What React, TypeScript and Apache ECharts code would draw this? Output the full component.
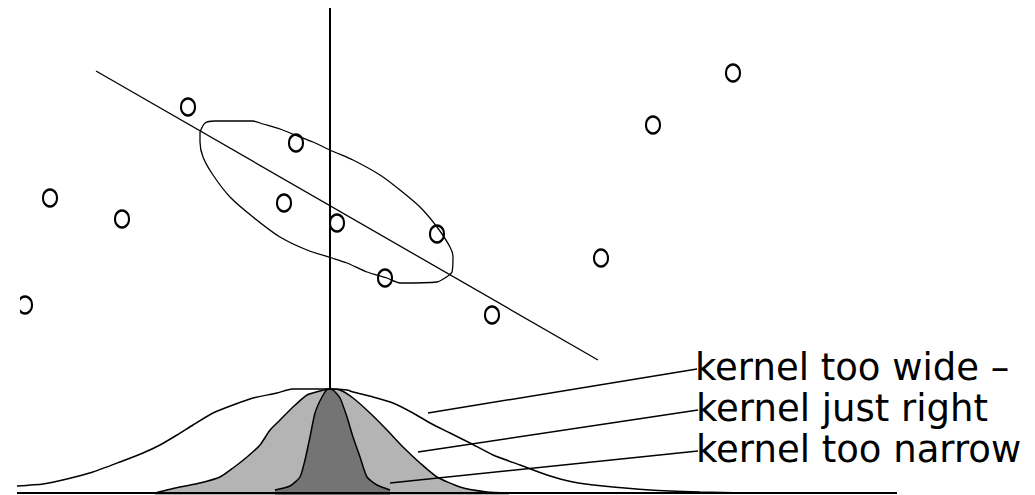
import React, { useEffect, useRef } from "react";
import * as echarts from "echarts";

// Sample points (x, y) in plot units: x across the page, y upward from the bottom
const samplePoints: [number, number][] = [
  [25, 190],
  [50, 297],
  [122, 276],
  [188, 388],
  [296, 352],
  [284, 292],
  [337, 272],
  [437, 261],
  [385, 217],
  [492, 180],
  [601, 237],
  [653, 370],
  [733, 422],
];

// Principal direction through the cloud
const fitLine: [number, number][] = [
  [96, 424],
  [598, 135],
];

// Vertical line marking where the kernels are centred
const modeLine: [number, number][] = [
  [330, 487],
  [330, 106],
];

// Hand-drawn covariance outline around the central points
const ellipseOutline: [number, number][] = [
  [200, 363], [205, 372], [215, 374], [253, 374], [263, 371], [280, 366],
  [295, 360], [313, 353], [332, 344], [353, 335], [380, 320], [400, 305],
  [420, 288], [437, 268], [450, 248], [453, 238], [452, 223], [448, 219],
  [437, 213], [400, 212], [387, 217], [367, 223], [347, 232], [332, 237],
  [307, 245], [280, 258], [253, 278], [230, 298], [213, 320], [203, 338],
  [200, 353], [200, 363],
];

// Kernel profiles along the x axis
const baseline: [number, number][] = [
  [17, 2],
  [897, 2],
];

const wideKernel: [number, number][] = [
  [17, 9], [43, 11], [67, 16], [93, 23], [120, 33], [143, 42], [160, 50],
  [177, 60], [193, 70], [213, 82], [233, 90], [253, 97], [277, 102],
  [292, 106], [330, 106], [347, 105], [353, 103], [373, 98], [393, 92],
  [413, 82], [430, 72], [450, 62], [470, 52], [493, 40], [520, 30],
  [547, 20], [573, 13], [603, 9], [650, 5], [700, 3], [747, 2],
];

const justRightKernel: [number, number][] = [
  [155, 2], [180, 8], [200, 12], [220, 18], [233, 27], [247, 38], [260, 50],
  [270, 65], [280, 75], [293, 88], [307, 100], [320, 104], [330, 106],
  [340, 105], [353, 97], [370, 82], [387, 65], [403, 48], [420, 32],
  [437, 18], [460, 8], [487, 3], [509, 2],
];

const narrowKernel: [number, number][] = [
  [275, 5], [290, 9], [300, 18], [305, 35], [310, 58], [315, 82], [322, 98],
  [328, 106], [333, 105], [340, 97], [347, 78], [353, 58], [360, 38],
  [367, 18], [377, 10], [390, 5],
];

// Leader lines from the labels to each kernel
const leaderWide: [number, number][] = [
  [428, 82],
  [697, 126],
];
const leaderJustRight: [number, number][] = [
  [418, 43],
  [698, 85],
];
const leaderNarrow: [number, number][] = [
  [390, 12],
  [698, 44],
];

const labelTexts = ["kernel too wide \u2013", "kernel just right", "kernel too narrow"];
const labelAnchors: [number, number][] = [
  [697, 126],
  [698, 85],
  [698, 44],
];

const WIDTH = 1035;
const HEIGHT = 495;

function lineSeries(
  name: string,
  data: [number, number][],
  width: number,
  extra: Record<string, unknown> = {}
) {
  return {
    name,
    type: "line",
    data,
    symbol: "none",
    silent: true,
    lineStyle: { color: "#000", width },
    ...extra,
  };
}

export default function App() {
  const ref = useRef<HTMLDivElement>(null);

  useEffect(() => {
    if (!ref.current) return;
    const chart = echarts.init(ref.current, undefined, { renderer: "svg" });

    const toPixelY = (y: number) => HEIGHT - y;

    chart.setOption({
      animation: false,
      backgroundColor: "#fff",
      grid: { left: 0, right: 0, top: 0, bottom: 0 },
      xAxis: { type: "value", min: 0, max: WIDTH, show: false },
      yAxis: { type: "value", min: 0, max: HEIGHT, show: false },
      series: [
        lineSeries("baseline", baseline, 2),
        lineSeries("wide", wideKernel, 1.5, { smooth: 0.2 }),
        lineSeries("justRight", justRightKernel, 1.5, {
          smooth: 0.2,
          areaStyle: { color: "#b4b4b4", opacity: 1 },
        }),
        lineSeries("narrow", narrowKernel, 1.5, {
          smooth: 0.2,
          areaStyle: { color: "#747474", opacity: 1 },
        }),
        lineSeries("leaderWide", leaderWide, 1.5),
        lineSeries("leaderJustRight", leaderJustRight, 1.5),
        lineSeries("leaderNarrow", leaderNarrow, 1.5),
        lineSeries("mode", modeLine, 2),
        lineSeries("fit", fitLine, 1.3),
        lineSeries("ellipse", ellipseOutline, 1.3, { smooth: 0.25 }),
        {
          name: "samples",
          type: "scatter",
          data: samplePoints,
          symbol: "circle",
          symbolSize: [14, 17],
          silent: true,
          itemStyle: {
            color: "rgba(0,0,0,0)",
            borderColor: "#000",
            borderWidth: 2.3,
            opacity: 1,
          },
          z: 5,
        },
      ],
      graphic: [
        // page edge trims the leftmost sample
        {
          type: "rect",
          left: 0,
          top: 286,
          shape: { width: 20, height: 38 },
          style: { fill: "#fff" },
          z: 100,
          silent: true,
        },
        ...labelTexts.map((t, i) => ({
          type: "text",
          x: labelAnchors[i][0] - 2,
          y: toPixelY(labelAnchors[i][1]) - 2,
          z: 100,
          silent: true,
          style: {
            text: t,
            fill: "#000",
            font: '37px "DejaVu Sans"',
            verticalAlign: "middle",
            align: "left",
          },
        })),
      ],
    });

    return () => chart.dispose();
  }, []);

  return (
    <div
      ref={ref}
      style={{ position: "fixed", left: 0, top: 0, width: WIDTH, height: HEIGHT }}
    />
  );
}
